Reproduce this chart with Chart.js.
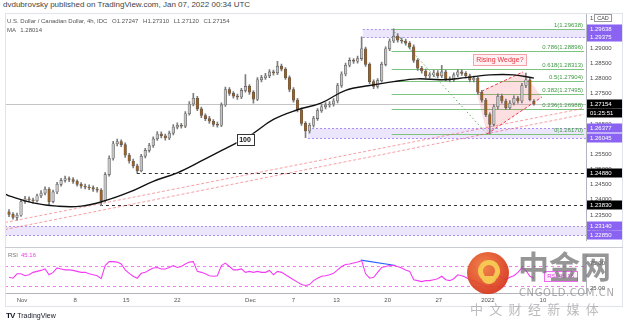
<!DOCTYPE html>
<html lang="en">
<head>
<meta charset="UTF-8" />
<title>USD/CAD 4h - Rising Wedge</title>
<script src="https://cdn.jsdelivr.net/npm/chart.js@4"></script>
<style>
  body { margin:0; width:624px; height:324px; background:#fff; position:relative; overflow:hidden; font-family:"Liberation Sans", Arial, sans-serif; }
  .abs { position:absolute; white-space:nowrap; }
  #head { left:3px; top:0px; font-size:8px; color:#444; }
  #legend { left:7px; top:17px; font-size:6px; color:#555; line-height:9px; }
  #legend b { font-weight:normal; margin-left:3px; }
  #frame { left:5px; top:13px; width:618px; height:294px; border:1px solid #e0e3eb; box-sizing:border-box; pointer-events:none; }
  #sep { left:5px; top:247px; width:618px; height:1px; background:#c9ccd3; }
  #rsiLbl { left:8px; top:252px; font-size:6px; color:#777; }
  #rsiLbl span { color:#f03cf0; margin-left:3px; }
  #tv { left:6px; top:311px; font-size:7px; color:#131722; }
  #tv b { font-size:8px; margin-right:3px; letter-spacing:-1px; }
  #wm-logo { left:467px; top:252px; width:42px; height:42px; border-radius:50%; background:radial-gradient(circle at 40% 35%, #f07a3a, #d8361c 72%); opacity:0.92; }
  #wm-ring { left:11px; top:8px; width:12px; height:12px; border:5px solid #f6c445; border-radius:50%; border-bottom-color:transparent; }
  #wm-tail { left:14px; top:24px; width:16px; height:8px; background:#f6c445; border-radius:0 0 10px 10px; }
  #wm-cn { left:518px; top:249px; font-size:31px; font-weight:700; color:rgba(110,110,110,0.72); font-family:"Noto Sans CJK SC", sans-serif; line-height:1; }
  #wm-en { left:519px; top:287px; font-size:10px; color:rgba(140,140,140,0.75); letter-spacing:0.6px; font-family:"DejaVu Sans", sans-serif; }
  #wm-sub { left:470px; top:299px; font-size:13px; color:rgba(165,165,165,0.75); letter-spacing:1.7px; font-family:"Noto Sans CJK SC", sans-serif; }
</style>
</head>
<body>
<div id="head" class="abs">dvdubrovsky published on TradingView.com, Jan 07, 2022 00:34 UTC</div>
<canvas id="main" class="abs" style="left:0;top:0" width="624" height="248"></canvas>
<canvas id="rsi" class="abs" style="left:0;top:248px" width="624" height="58"></canvas>
<div id="frame" class="abs"></div>
<div id="sep" class="abs"></div>
<div id="legend" class="abs">U.S. Dollar / Canadian Dollar, 4h, IDC <b>O1.27247</b> <b>H1.27310</b> <b>L1.27120</b> <b>C1.27154</b><br>MA <b>1.28014</b></div>
<div id="rsiLbl" class="abs">RSI<span>45.16</span></div>
<div id="tv" class="abs"><b>TV</b>TradingView</div>
<div id="wm-logo" class="abs"><div id="wm-ring" class="abs"></div><div id="wm-tail" class="abs"></div></div>
<div id="wm-cn" class="abs">中金网</div>
<div id="wm-en" class="abs">CNGOLD.COM.CN</div>
<div id="wm-sub" class="abs">中 文 财 经 新 媒 体</div>

<script>
  // candles (one every ~half day), index 0 = start of Nov
  const opens = [
    1.2360,1.2352,1.2342,1.2349,1.2394,1.2403,1.2400,1.2397,1.2413,1.2422,
    1.2435,1.2394,1.2426,1.2451,1.2464,1.2470,1.2467,1.2461,1.2451,1.2445,
    1.2442,1.2440,1.2435,1.2432,1.2397,1.2483,1.2537,1.2585,1.2592,1.2582,
    1.2547,1.2528,1.2512,1.2496,1.2544,1.2563,1.2579,1.2601,1.2617,1.2611,
    1.2604,1.2620,1.2640,1.2646,1.2643,1.2684,1.2716,1.2735,1.2700,1.2678,
    1.2668,1.2659,1.2649,1.2646,1.2713,1.2764,1.2751,1.2742,1.2739,1.2761,
    1.2774,1.2755,1.2732,1.2796,1.2803,1.2809,1.2822,1.2819,1.2841,1.2831,
    1.2803,1.2764,1.2729,1.2697,1.2652,1.2627,1.2646,1.2668,1.2694,1.2707,
    1.2713,1.2716,1.2726,1.2777,1.2815,1.2844,1.2860,1.2857,1.2866,1.2898,
    1.2847,1.2790,1.2774,1.2793,1.2847,1.2898,1.2924,1.2940,1.2927,1.2924,
    1.2917,1.2905,1.2860,1.2834,1.2825,1.2809,1.2812,1.2819,1.2809,1.2822,
    1.2799,1.2796,1.2812,1.2822,1.2817,1.2809,1.2796,1.2801,1.2755,1.2729,
    1.2681,1.2649,1.2707,1.2742,1.2726,1.2704,1.2719,1.2735,1.2726,1.2777,
    1.2796,1.27247];
  const highs = [
    1.2368,1.2358,1.2356,1.2401,1.2411,1.2410,1.2406,1.2419,1.2430,1.2443,
    1.2440,1.2432,1.2458,1.2471,1.2478,1.2476,1.2473,1.2466,1.2457,1.2452,
    1.2449,1.2446,1.2441,1.2437,1.2490,1.2545,1.2593,1.2600,1.2598,1.2588,
    1.2553,1.2534,1.2518,1.2550,1.2570,1.2586,1.2608,1.2625,1.2624,1.2617,
    1.2627,1.2648,1.2654,1.2652,1.2691,1.2724,1.2751,1.2741,1.2706,1.2684,
    1.2675,1.2665,1.2656,1.2720,1.2772,1.2770,1.2757,1.2749,1.2768,1.2813,
    1.2780,1.2760,1.2803,1.2811,1.2817,1.2830,1.2828,1.2857,1.2848,1.2836,
    1.2809,1.2770,1.2735,1.2703,1.2658,1.2653,1.2675,1.2701,1.2715,1.2721,
    1.2724,1.2734,1.2784,1.2822,1.2851,1.2868,1.2866,1.2874,1.2938,1.2904,
    1.2852,1.2796,1.2800,1.2854,1.2905,1.2931,1.2964,1.2948,1.2934,1.2930,
    1.2922,1.2911,1.2866,1.2840,1.2831,1.2820,1.2827,1.2826,1.2844,1.2828,
    1.2806,1.2819,1.2830,1.2829,1.2823,1.2815,1.2808,1.2806,1.2761,1.2735,
    1.2687,1.2714,1.2750,1.2749,1.2732,1.2727,1.2743,1.2741,1.2784,1.2818,
    1.2802,1.27310];
  const lows = [
    1.2344,1.2336,1.2333,1.2345,1.2388,1.2393,1.2389,1.2392,1.2407,1.2416,
    1.2381,1.2390,1.2420,1.2445,1.2458,1.2460,1.2454,1.2445,1.2438,1.2436,
    1.2433,1.2428,1.2425,1.2381,1.2393,1.2478,1.2531,1.2578,1.2575,1.2540,
    1.2521,1.2505,1.2489,1.2492,1.2538,1.2557,1.2573,1.2596,1.2604,1.2597,
    1.2598,1.2614,1.2634,1.2636,1.2638,1.2679,1.2710,1.2694,1.2671,1.2661,
    1.2652,1.2642,1.2640,1.2641,1.2708,1.2744,1.2735,1.2731,1.2734,1.2755,
    1.2748,1.2719,1.2727,1.2789,1.2797,1.2803,1.2811,1.2813,1.2825,1.2797,
    1.2757,1.2722,1.2690,1.2645,1.2605,1.2620,1.2640,1.2662,1.2688,1.2700,
    1.2706,1.2709,1.2720,1.2771,1.2809,1.2838,1.2850,1.2851,1.2860,1.2840,
    1.2783,1.2767,1.2768,1.2788,1.2842,1.2892,1.2918,1.2920,1.2917,1.2910,
    1.2898,1.2853,1.2827,1.2818,1.2802,1.2802,1.2806,1.2802,1.2803,1.2792,
    1.2789,1.2790,1.2806,1.2810,1.2802,1.2789,1.2789,1.2748,1.2722,1.2674,
    1.2617,1.2643,1.2700,1.2719,1.2697,1.2698,1.2713,1.2719,1.2720,1.2770,
    1.2726,1.27120];
  const closes = [
    1.2352,1.2342,1.2349,1.2394,1.2403,1.2400,1.2397,1.2413,1.2422,1.2435,
    1.2394,1.2426,1.2451,1.2464,1.2470,1.2467,1.2461,1.2451,1.2445,1.2442,
    1.2440,1.2435,1.2432,1.2397,1.2483,1.2537,1.2585,1.2592,1.2582,1.2547,
    1.2528,1.2512,1.2496,1.2544,1.2563,1.2579,1.2601,1.2617,1.2611,1.2604,
    1.2620,1.2640,1.2646,1.2643,1.2684,1.2716,1.2735,1.2700,1.2678,1.2668,
    1.2659,1.2649,1.2646,1.2713,1.2764,1.2751,1.2742,1.2739,1.2761,1.2774,
    1.2755,1.2732,1.2796,1.2803,1.2809,1.2822,1.2819,1.2841,1.2831,1.2803,
    1.2764,1.2729,1.2697,1.2652,1.2627,1.2646,1.2668,1.2694,1.2707,1.2713,
    1.2716,1.2726,1.2777,1.2815,1.2844,1.2860,1.2857,1.2866,1.2898,1.2847,
    1.2790,1.2774,1.2793,1.2847,1.2898,1.2924,1.2940,1.2927,1.2924,1.2917,
    1.2905,1.2860,1.2834,1.2825,1.2809,1.2812,1.2819,1.2809,1.2822,1.2799,
    1.2796,1.2812,1.2822,1.2817,1.2809,1.2796,1.2801,1.2755,1.2729,1.2681,
    1.2649,1.2707,1.2742,1.2726,1.2704,1.2719,1.2735,1.2726,1.2777,1.2796,
    1.2730,1.27154];

  // 100-period moving average, read at a few candles
  const maIdx = [-1,0,6,12,18,24,30,36,42,48,54,60,66,72,78,84,90,96,102,108,114,120,126,131];
  const maVals = [1.2419,1.2413,1.2390,1.2379,1.2379,1.2397,1.2425,1.2461,1.2489,1.2528,1.2569,1.2611,
                  1.2665,1.2697,1.2720,1.2761,1.2777,1.2790,1.2799,1.2796,1.2803,1.2812,1.2812,1.28014];

  // RSI(14), one value per candle
  const rsiVals = [
    47,45,54,54,50,52,57,59,61,64,
    52,57,66,64,62,62,61,59,57,57,
    54,52,50,44,71,79,79,78,74,62,
    55,49,45,55,57,62,66,67,64,64,
    67,71,67,69,74,78,79,59,57,54,
    50,49,50,71,76,69,62,62,64,57,
    59,57,59,57,57,61,52,59,57,52,
    47,42,37,32,30,32,40,45,49,50,
    52,55,62,69,73,74,76,78,81,54,
    45,47,57,67,69,71,71,69,66,62,
    59,42,40,38,40,40,42,44,49,42,
    40,44,52,50,47,42,40,35,32,28,
    27,40,50,47,42,47,50,57,66,61,
    49,45.16];
  const rsiBands = [70, 30];
  const rsiTicks = [75, 25];
  const divX = [87.8, 96.5];
  const divY = [82, 71];

  // axes
  const xTickIdx = [3.25, 16.5, 29.25, 42, 60.25, 71, 81.75, 94.5, 107.25, 119.5, 133.25];
  const xTickLabels = ['Nov', '8', '15', '22', 'Dec', '7', '13', '20', '27', '2022', '10'];
  const yTicks = [1.300, 1.295, 1.290, 1.285, 1.280, 1.275, 1.270, 1.265, 1.260, 1.255, 1.250, 1.245, 1.240, 1.235, 1.230];

  // drawings
  const fibRatios = ['1', '0.786', '0.618', '0.5', '0.382', '0.236', '0'];
  const fibPrices = [1.29638, 1.28896, 1.28313, 1.27904, 1.27495, 1.26988, 1.26170];
  const fibStart = 95.5;
  const fibTrendX = [95.5, 119.3];
  const fibTrendY = [1.29638, 1.26170];
  const zoneTop = [1.29638, 1.26377, 1.23140];
  const zoneBottom = [1.29375, 1.26045, 1.22850];
  const zoneFrom = [88.3, 74.6, -1];
  const levelPrices = [1.24880, 1.23830];
  const levelFrom = [31.9, 22.7];
  const lastPrice = 1.27154;
  const trendX = [-1, 143.5];
  const trendUpper = [1.2325, 1.2702];
  const trendLower = [1.2302, 1.2682];
  const wedgeX = [116.8, 128.3, 133.0, 119.3];
  const wedgeY = [1.2751, 1.2822, 1.2739, 1.2617];
  const wedgeLabel = { x: 122.5, y: 1.2862, text: 'Rising Wedge?' };
  const maLabel = { x: 58.9, y: 1.2600, text: '100' };

  const FONT = '"Liberation Sans", Arial, sans-serif';
  const UP = '#c4c4c4';
  const DOWN = '#a2601c';

  function seg(ctx, x0, y0, x1, y1, color, dash, w) {
    ctx.save();
    ctx.strokeStyle = color;
    ctx.lineWidth = w || 1;
    ctx.setLineDash(dash || []);
    ctx.beginPath();
    ctx.moveTo(x0, y0);
    ctx.lineTo(x1, y1);
    ctx.stroke();
    ctx.restore();
  }

  function axisBox(ctx, left, yy, text, bg) {
    ctx.fillStyle = bg;
    ctx.fillRect(left + 1, Math.round(yy) - 4.5, 35, 9);
    ctx.fillStyle = '#fff';
    ctx.font = '6px ' + FONT;
    ctx.textAlign = 'left';
    ctx.textBaseline = 'middle';
    ctx.fillText(text, left + 4, Math.round(yy));
  }

  const overlays = {
    id: 'overlays',
    beforeDatasetsDraw(chart) {
      const { ctx, chartArea: a, scales: { x, y } } = chart;
      const py = v => Math.round(y.getPixelForValue(v)) + 0.5;
      ctx.save();
      ctx.beginPath();
      ctx.rect(a.left, a.top, a.right - a.left, a.bottom - a.top);
      ctx.clip();

      // purple zones
      zoneTop.forEach((top, k) => {
        const x0 = Math.max(a.left, x.getPixelForValue(zoneFrom[k]));
        const y0 = py(top), y1 = py(zoneBottom[k]);
        ctx.fillStyle = 'rgba(160,130,240,0.2)';
        ctx.fillRect(x0, y0, a.right - x0, y1 - y0);
        seg(ctx, x0, y0, a.right, y0, '#a98ff0', [2, 2]);
        seg(ctx, x0, y1, a.right, y1, '#a98ff0', [2, 2]);
      });

      // last price line
      seg(ctx, a.left, py(lastPrice), a.right, py(lastPrice), '#c4c4c4');

      // black dashed levels
      levelPrices.forEach((p, k) => {
        seg(ctx, x.getPixelForValue(levelFrom[k]), py(p), a.right, py(p), '#333', [3, 3]);
      });

      // fibonacci retracement
      const fx = x.getPixelForValue(fibStart);
      fibPrices.forEach(p => seg(ctx, fx, py(p), a.right - 2, py(p), '#7cc47f'));
      seg(ctx, x.getPixelForValue(fibTrendX[0]), y.getPixelForValue(fibTrendY[0]),
        x.getPixelForValue(fibTrendX[1]), y.getPixelForValue(fibTrendY[1]), '#5cb85f', [1.5, 2.5]);

      // rising support lines
      seg(ctx, x.getPixelForValue(trendX[0]), y.getPixelForValue(trendUpper[0]),
        x.getPixelForValue(trendX[1]), y.getPixelForValue(trendUpper[1]), 'rgba(242,80,90,0.55)', [3, 2]);
      seg(ctx, x.getPixelForValue(trendX[0]), y.getPixelForValue(trendLower[0]),
        x.getPixelForValue(trendX[1]), y.getPixelForValue(trendLower[1]), 'rgba(242,80,90,0.55)', [3, 2]);

      // wedge
      const wx = wedgeX.map(v => x.getPixelForValue(v));
      const wy = wedgeY.map(v => y.getPixelForValue(v));
      ctx.fillStyle = 'rgba(242,54,69,0.16)';
      ctx.beginPath();
      wx.forEach((v, k) => (k ? ctx.lineTo(v, wy[k]) : ctx.moveTo(v, wy[k])));
      ctx.closePath();
      ctx.fill();
      seg(ctx, wx[0], wy[0], wx[1], wy[1], '#f23645', [3, 2]);
      seg(ctx, wx[3], wy[3], wx[2], wy[2], '#f23645', [3, 2]);
      ctx.restore();
    },
    afterDatasetsDraw(chart) {
      const { ctx, chartArea: a, scales: { x, y } } = chart;
      ctx.save();
      // fib labels
      ctx.font = '6px ' + FONT;
      ctx.fillStyle = '#3f9a43';
      ctx.textAlign = 'right';
      ctx.textBaseline = 'bottom';
      fibPrices.forEach((p, k) => {
        ctx.fillText(fibRatios[k] + '(' + p.toFixed(5) + ')', a.right - 3, Math.round(y.getPixelForValue(p)) - 1);
      });

      // wedge label
      let cx = x.getPixelForValue(wedgeLabel.x), cy = y.getPixelForValue(wedgeLabel.y);
      ctx.font = '7px ' + FONT;
      let w = ctx.measureText(wedgeLabel.text).width + 6;
      ctx.fillStyle = 'rgba(255,240,242,0.95)';
      ctx.strokeStyle = '#f5a3ab';
      ctx.lineWidth = 1;
      ctx.fillRect(cx - w / 2, cy - 5.5, w, 11);
      ctx.strokeRect(Math.round(cx - w / 2) + 0.5, Math.round(cy - 5.5) + 0.5, Math.round(w), 11);
      ctx.fillStyle = '#e8323f';
      ctx.textAlign = 'center';
      ctx.textBaseline = 'middle';
      ctx.fillText(wedgeLabel.text, cx, cy + 0.5);

      // MA length label
      cx = x.getPixelForValue(maLabel.x); cy = y.getPixelForValue(maLabel.y);
      ctx.font = 'bold 7px ' + FONT;
      w = 17;
      ctx.fillStyle = '#fff';
      ctx.fillRect(cx - w / 2, cy - 5.5, w, 11);
      ctx.strokeStyle = '#333';
      ctx.strokeRect(Math.round(cx - w / 2) + 0.5, Math.round(cy - 5.5) + 0.5, w, 11);
      ctx.fillStyle = '#111';
      ctx.fillText(maLabel.text, cx, cy + 0.5);
      ctx.restore();
    },
    afterDraw(chart) {
      const { ctx, chartArea: a, scales: { y } } = chart;
      ctx.save();
      const purple = '#8a63f2';
      zoneTop.forEach((t, k) => {
        axisBox(ctx, a.right, y.getPixelForValue(t), t.toFixed(5), purple);
        axisBox(ctx, a.right, y.getPixelForValue(zoneBottom[k]), zoneBottom[k].toFixed(5), purple);
      });
      levelPrices.forEach(p => axisBox(ctx, a.right, y.getPixelForValue(p), p.toFixed(5), '#000'));
      const ly = y.getPixelForValue(lastPrice);
      axisBox(ctx, a.right, ly, lastPrice.toFixed(5), '#000');
      axisBox(ctx, a.right, ly + 9, '01:25:51', '#000');

      // currency badge at the top of the price scale
      const by = Math.round(y.getPixelForValue(yTicks[0]));
      ctx.fillStyle = '#fff';
      ctx.fillRect(a.right + 8, by - 4, 18, 8);
      ctx.strokeStyle = '#9a9a9a';
      ctx.strokeRect(a.right + 8.5, by - 3.5, 17, 7);
      ctx.fillStyle = '#444';
      ctx.font = '5.5px ' + FONT;
      ctx.textAlign = 'center';
      ctx.textBaseline = 'middle';
      ctx.fillText('CAD', a.right + 17, by);
      ctx.restore();
    }
  };

  new Chart(document.getElementById('main'), {
    type: 'bar',
    data: {
      datasets: [
        {
          type: 'line',
          label: 'MA 100',
          data: maIdx.map((v, k) => ({ x: v, y: maVals[k] })),
          borderColor: '#111',
          borderWidth: 1.4,
          pointRadius: 0,
          tension: 0.4,
          order: 0,
        },
        {
          label: 'Bodies',
          data: closes.map((c, i) => ({ x: i, y: [opens[i], c] })),
          backgroundColor: closes.map((c, i) => (c >= opens[i] ? UP : DOWN)),
          borderColor: '#5a5a5a',
          borderWidth: 0.6,
          borderSkipped: false,
          barThickness: 2.6,
          grouped: false,
          order: 1,
        },
        {
          label: 'Wicks',
          data: highs.map((h, i) => ({ x: i, y: [lows[i], h] })),
          backgroundColor: '#7d7d7d',
          barThickness: 1,
          grouped: false,
          order: 2,
        },
      ],
    },
    options: {
      responsive: false,
      animation: false,
      events: [],
      layout: { padding: { left: 5, top: 14, right: 0, bottom: 0 } },
      plugins: { legend: { display: false }, tooltip: { enabled: false } },
      scales: {
        x: { type: 'linear', min: -1, max: 144, offset: false, display: false },
        y: {
          position: 'right',
          min: 1.2266,
          max: 1.3013,
          grid: { display: false, drawTicks: false },
          border: { color: '#b2b5be' },
          ticks: { font: { size: 6, family: FONT }, color: '#4a4a4a', padding: 4, callback: v => v.toFixed(5) },
          afterBuildTicks: s => { s.ticks = yTicks.map(v => ({ value: v })); },
          afterFit: s => { s.width = 38; },
        },
      },
    },
    plugins: [overlays],
  });

  const rsiOverlay = {
    id: 'rsiOverlay',
    beforeDatasetsDraw(chart) {
      const { ctx, chartArea: a, scales: { y } } = chart;
      rsiBands.forEach(b => {
        const yy = Math.round(y.getPixelForValue(b)) + 0.5;
        seg(ctx, a.left, yy, a.right, yy, '#f47ff4', [3, 3]);
      });
    },
    afterDatasetsDraw(chart) {
      const { ctx, chartArea: a, scales: { y } } = chart;
      const last = rsiVals[rsiVals.length - 1];
      const yy = Math.round(y.getPixelForValue(last)) - 2;
      ctx.save();
      ctx.font = '6px ' + FONT;
      const text = 'RSI ' + last.toFixed(2);
      const w = ctx.measureText(text).width + 6;
      ctx.fillStyle = 'rgba(255,240,255,0.9)';
      ctx.fillRect(a.right - 9 - w, yy - 5, w, 10);
      ctx.strokeStyle = '#f06af0';
      ctx.strokeRect(Math.round(a.right - 9 - w) + 0.5, yy - 4.5, Math.round(w), 10);
      ctx.fillStyle = '#e83ae8';
      ctx.textAlign = 'left';
      ctx.textBaseline = 'middle';
      ctx.fillText(text, a.right - 6 - w, yy + 0.5);
      ctx.restore();
    }
  };

  new Chart(document.getElementById('rsi'), {
    type: 'line',
    data: {
      datasets: [
        {
          label: 'RSI',
          data: rsiVals.map((v, i) => ({ x: i, y: v })),
          borderColor: '#f53cf5',
          borderWidth: 1.1,
          pointRadius: 0,
          tension: 0,
        },
        {
          label: 'Divergence',
          data: divX.map((v, k) => ({ x: v, y: divY[k] })),
          borderColor: '#2962ff',
          borderWidth: 1.2,
          pointRadius: 0,
        },
      ],
    },
    options: {
      responsive: false,
      animation: false,
      events: [],
      layout: { padding: { left: 5, top: 0, right: 0, bottom: 0 } },
      plugins: { legend: { display: false }, tooltip: { enabled: false } },
      scales: {
        x: {
          type: 'linear',
          min: -1,
          max: 144,
          grid: { display: false, drawTicks: false },
          border: { color: '#b2b5be' },
          ticks: {
            autoSkip: false,
            maxRotation: 0,
            padding: 4,
            color: '#555',
            font: { size: 6, family: FONT },
            callback: v => xTickLabels[xTickIdx.indexOf(v)],
          },
          afterBuildTicks: s => { s.ticks = xTickIdx.map(v => ({ value: v })); },
          afterFit: s => { s.height = 13; },
        },
        y: {
          position: 'right',
          min: 14.7,
          max: 91.3,
          grid: { display: false, drawTicks: false },
          border: { color: '#b2b5be' },
          ticks: { font: { size: 6, family: FONT }, color: '#4a4a4a', padding: 4, callback: v => v.toFixed(2) },
          afterBuildTicks: s => { s.ticks = rsiTicks.map(v => ({ value: v })); },
          afterFit: s => { s.width = 38; },
        },
      },
    },
    plugins: [rsiOverlay],
  });
</script>
</body>
</html>
